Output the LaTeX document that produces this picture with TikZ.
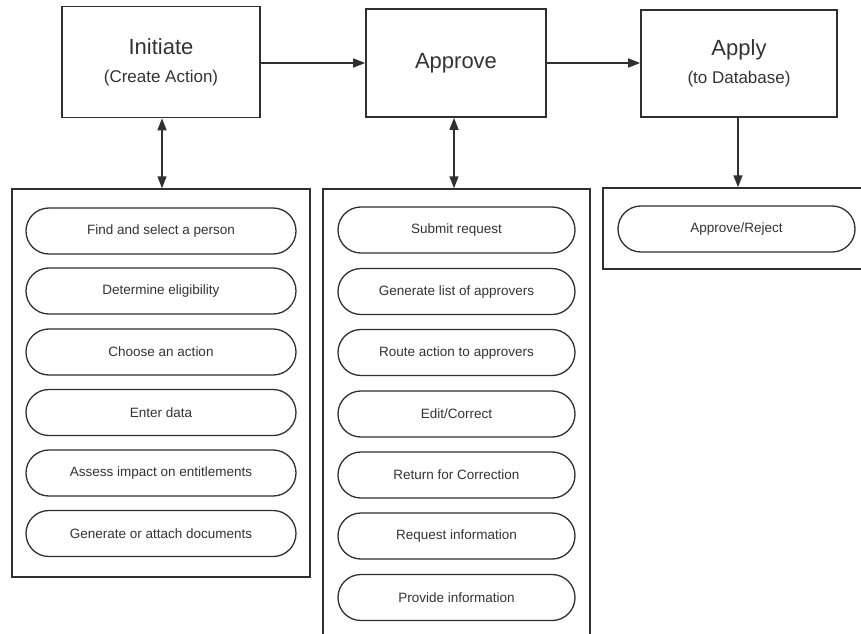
\documentclass[tikz,border=0pt]{standalone}
\usepackage{fontspec}
\setmainfont{Liberation Sans}
\usetikzlibrary{arrows.meta}
\definecolor{ink}{HTML}{333333}
\definecolor{edge}{HTML}{303030}
\begin{document}
\begin{tikzpicture}[x=1pt,y=-1pt,
  stagebox/.style={draw=edge, line width=1.6pt, inner sep=0pt, align=center, text=ink, font=\fontsize{22}{28}\selectfont},
  panelbox/.style={draw=edge, line width=1.5pt, inner sep=0pt},
  pill/.style={draw=edge, line width=1.3pt, rounded corners=22.9pt, minimum height=46pt, inner sep=0pt, text=ink, font=\fontsize{13.5}{16}\selectfont},
  tip/.tip={Triangle[length=12pt,width=9pt]},
  flow/.style={draw=edge, line width=1.5pt, -tip},
  both/.style={draw=edge, line width=1.5pt, tip-tip}]
\useasboundingbox (0,0) rectangle (861,633);
\clip (0,0) rectangle (861,633);
% stage boxes
\node[stagebox, minimum width=198pt, minimum height=111pt] (init) at (161,62)
  {Initiate\\\fontsize{17}{28}\selectfont (Create Action)};
\node[stagebox, minimum width=180pt, minimum height=108pt] (appr) at (456,63)
  {Approve};
\node[stagebox, minimum width=196pt, minimum height=107pt] (apply) at (739,63.5)
  {Apply\\\fontsize{17}{28}\selectfont (to Database)};
% panels
\node[panelbox, minimum width=298pt, minimum height=388pt] (leftp) at (161,383) {};
\node[panelbox, minimum width=267pt, minimum height=446pt] (midp) at (456.5,412) {};
\node[panelbox, minimum width=267pt, minimum height=81pt] (rightp) at (736.5,228.5) {};
% left pills
\node[pill, minimum width=270pt] (l1) at (161,231) {Find and select a person};
\node[pill, minimum width=270pt] (l2) at (161,291) {Determine eligibility};
\node[pill, minimum width=270pt] (l3) at (161,352) {Choose an action};
\node[pill, minimum width=270pt] (l4) at (161,412.5) {Enter data};
\node[pill, minimum width=270pt] (l5) at (161,473) {Assess impact on entitlements};
\node[pill, minimum width=270pt] (l6) at (161,533.5) {Generate or attach documents};
% middle pills
\node[pill, minimum width=237pt] (m1) at (456.5,230) {Submit request};
\node[pill, minimum width=237pt] (m2) at (456.5,291.5) {Generate list of approvers};
\node[pill, minimum width=237pt] (m3) at (456.5,352.5) {Route action to approvers};
\node[pill, minimum width=237pt] (m4) at (456.5,414) {Edit/Correct};
\node[pill, minimum width=237pt] (m5) at (456.5,475) {Return for Correction};
\node[pill, minimum width=237pt] (m6) at (456.5,536) {Request information};
\node[pill, minimum width=237pt] (m7) at (456.5,597.5) {Provide information};
% right pill
\node[pill, minimum width=237pt] (r1) at (736.5,229) {Approve/Reject};
% connectors
\draw[flow] (init.east |- 0,63) -- (appr.west |- 0,63);
\draw[flow] (appr.east |- 0,63) -- (apply.west |- 0,63);
\draw[both] (init.south -| 162,0) -- (leftp.north -| 162,0);
\draw[both] (appr.south -| 454,0) -- (midp.north -| 454,0);
\draw[flow] (apply.south -| 738,0) -- (rightp.north -| 738,0);
\end{tikzpicture}
\end{document}
